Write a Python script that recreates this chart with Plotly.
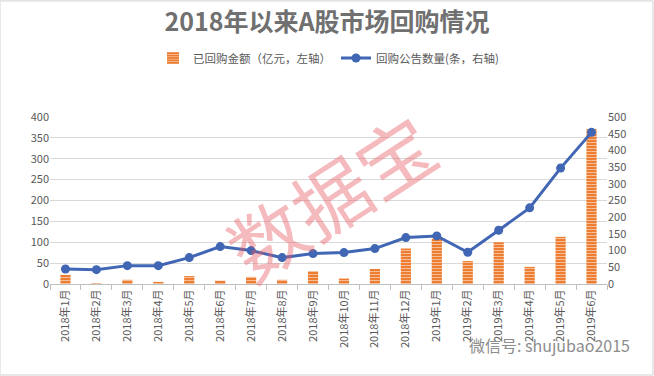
import plotly.graph_objects as go

months = ["2018年1月", "2018年2月", "2018年3月", "2018年4月", "2018年5月", "2018年6月",
          "2018年7月", "2018年8月", "2018年9月", "2018年10月", "2018年11月", "2018年12月",
          "2019年1月", "2019年2月", "2019年3月", "2019年4月", "2019年5月", "2019年6月"]
amount = [22, 2, 10, 5, 19, 8, 17, 10, 31, 13, 36, 85, 109, 55, 100, 41, 113, 371]
count = [45, 43, 55, 55, 79, 112, 100, 79, 91, 94, 106, 139, 144, 95, 161, 228, 347, 454]

font_family = "Noto Sans CJK SC, Noto Sans, sans-serif"
gray = "#595959"

fig = go.Figure()
fig.add_trace(go.Bar(
    x=months, y=amount, name="已回购金额（亿元，左轴）",
    marker=dict(color="#ED7D31", line=dict(width=0),
                pattern=dict(shape="-", fgcolor="#FFFFFF", bgcolor="#ED7D31", size=3, solidity=0.35)),
    width=0.33, yaxis="y",
))
fig.add_trace(go.Scatter(
    x=months, y=count, name="回购公告数量(条，右轴)", yaxis="y2",
    mode="lines+markers",
    line=dict(color="#4066B4", width=3),
    marker=dict(color="#4066B4", size=9),
))

fig.update_layout(
    width=654, height=376,
    margin=dict(l=50, r=47, t=117, b=92, autoexpand=False),
    paper_bgcolor="white", plot_bgcolor="white",
    font=dict(family=font_family, color=gray, size=11),
    title=dict(text="<b>2018年以来A股市场回购情况</b>", x=0.5, xanchor="center",
               y=1 - 22 / 376, yanchor="middle", yref="container",
               font=dict(size=25, color="#707070")),
    legend=dict(orientation="h", x=0.5, xanchor="center", y=1 - 58 / 376, yanchor="middle",
                yref="container", font=dict(size=11.5, color=gray), bgcolor="rgba(0,0,0,0)"),
    xaxis=dict(type="category", range=[-0.5, len(months) - 0.5], tickangle=-90,
               showline=True, linecolor="#BFBFBF",
               ticks="outside", tickcolor="#BFBFBF", ticklen=5, tickson="boundaries",
               showgrid=False, tickfont=dict(size=11, color=gray), automargin=False),
    yaxis=dict(range=[0, 400], dtick=50, showgrid=True, gridcolor="#D9D9D9",
               zeroline=False, tickfont=dict(size=11, color=gray), automargin=False),
    yaxis2=dict(range=[0, 500], dtick=50, overlaying="y", side="right", showgrid=False,
                zeroline=False, tickfont=dict(size=11, color=gray), automargin=False),
)

fig.add_annotation(text="数据宝", xref="paper", yref="paper", x=0.503, y=0.53,
                   showarrow=False, textangle=-33,
                   font=dict(size=76, color="rgba(232,90,100,0.42)", family=font_family))
fig.add_annotation(text="微信号: shujubao2015", xref="paper", yref="paper", x=1.045, y=-0.365,
                   xanchor="right", yanchor="middle", showarrow=False,
                   font=dict(size=16, color="#8C8C8C", family=font_family))

fig.add_shape(type="rect", xref="paper", yref="paper", x0=-0.0898, x1=1.0826, y0=-0.545, y1=1.695,
              line=dict(color="#D0D0D0", width=1))

fig.write_html("out.html", config={"displayModeBar": False},
               post_script="document.body.style.margin='0';")
